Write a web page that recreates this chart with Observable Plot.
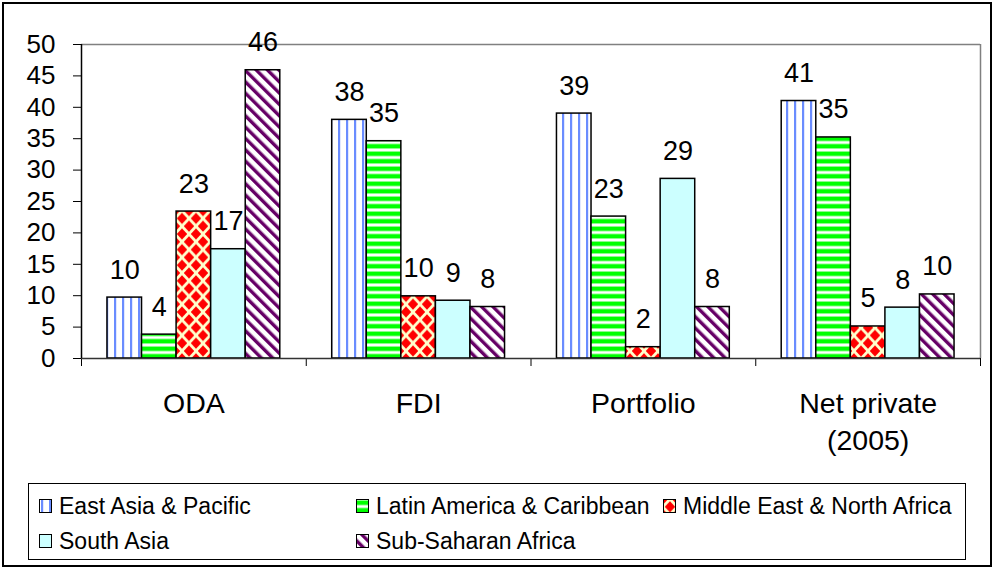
<!DOCTYPE html>
<html>
<head>
<meta charset="utf-8">
<script src="https://cdn.jsdelivr.net/npm/d3@7"></script>
<script src="https://cdn.jsdelivr.net/npm/@observablehq/plot@0.6"></script>
<style>
  html, body { margin: 0; padding: 0; background: #fff; }
  #wrap { position: relative; width: 995px; height: 569px; overflow: hidden; font-family: "Liberation Sans", Arial, sans-serif; }
  #outer { position: absolute; left: 2px; top: 2px; width: 990px; height: 565px; border: 2px solid #000; box-sizing: border-box; }
  #chart { position: absolute; left: 0; top: 0; }
  #legend { position: absolute; left: 28px; top: 483px; width: 938px; height: 77px; border: 1px solid #000; box-sizing: border-box; }
  .item { position: absolute; display: flex; align-items: center; font-size: 23px; color: #000; white-space: nowrap; line-height: 1; }
  .item svg { margin-right: 7px; }
</style>
</head>
<body>
<svg width="0" height="0" style="position:absolute">
  <defs>
    <pattern id="pEA" patternUnits="userSpaceOnUse" width="8" height="8">
      <rect width="8" height="8" fill="#ffffff"/>
      <rect x="2" width="2.2" height="8" fill="#6a8cff"/>
    </pattern>
    <pattern id="pLA" patternUnits="userSpaceOnUse" width="8" height="7.5">
      <rect width="8" height="7.5" fill="#ffffff"/>
      <rect y="1.5" width="8" height="4.5" fill="#00ff00"/>
    </pattern>
    <pattern id="pME" patternUnits="userSpaceOnUse" width="14" height="15.6">
      <rect width="14" height="15.6" fill="#ffffcc"/>
      <path d="M7,2.2L12.2,7.8L7,13.4L1.8,7.8Z" fill="#ff0000"/>
      <path d="M0,-5.6L5.2,0L0,5.6L-5.2,0Z" fill="#ff0000"/>
      <path d="M14,-5.6L19.2,0L14,5.6L8.8,0Z" fill="#ff0000"/>
      <path d="M0,10L5.2,15.6L0,21.2L-5.2,15.6Z" fill="#ff0000"/>
      <path d="M14,10L19.2,15.6L14,21.2L8.8,15.6Z" fill="#ff0000"/>
    </pattern>
    <pattern id="pSA" patternUnits="userSpaceOnUse" width="8" height="8">
      <rect width="8" height="8" fill="#ccffff"/>
    </pattern>
    <pattern id="pSSA" patternUnits="userSpaceOnUse" width="8" height="8" patternTransform="rotate(-45)">
      <rect width="8" height="8" fill="#ffffff"/>
      <rect x="2" width="3.4" height="8" fill="#660066"/>
    </pattern>
  </defs>
</svg>
<div id="wrap">
  <div id="outer"></div>
  <div id="chart"></div>
  <div id="legend"></div>
</div>
<script>
// ---- data ----
const categories = ["ODA", "FDI", "Portfolio", "Net private\n(2005)"];
const regions = ["East Asia & Pacific", "Latin America & Caribbean", "Middle East & North Africa", "South Asia", "Sub-Saharan Africa"];
const eastAsiaPacific      = [9.7, 38.0, 39.0, 41.0];
const latinAmericaCaribbean = [3.8, 34.6, 22.6, 35.2];
const middleEastNorthAfrica = [23.4, 9.9, 1.8, 5.1];
const southAsia            = [17.4, 9.2, 28.6, 8.1];
const subSaharanAfrica     = [45.9, 8.2, 8.2, 10.2];
const yTicks = [0, 5, 10, 15, 20, 25, 30, 35, 40, 45, 50];
const patternFills = ["url(#pEA)", "url(#pLA)", "url(#pME)", "url(#pSA)", "url(#pSSA)"];

// ---- table ----
const series = [eastAsiaPacific, latinAmericaCaribbean, middleEastNorthAfrica, southAsia, subSaharanAfrica];
const rows = [];
categories.forEach((cat, ci) => {
  regions.forEach((region, ri) => {
    rows.push({cat, ci, region, ri, value: series[ri][ci]});
  });
});

const barW = 0.1538;                 // width of one bar, in category units
const groupOff = (1 - regions.length * barW) / 2;
const x1 = d => d.ci + groupOff + d.ri * barW;
const x2 = d => x1(d) + barW;
const xc = d => x1(d) + barW / 2;

const chart = Plot.plot({
  width: 995,
  height: 470,
  marginLeft: 81,
  marginRight: 15,
  marginTop: 44,
  marginBottom: 112,
  style: {
    fontFamily: '"Liberation Sans", Arial, sans-serif',
    fontSize: "26px",
    color: "#000",
    background: "transparent",
    overflow: "visible"
  },
  x: {domain: [0, categories.length], ticks: d3.range(0, categories.length + 1), tickSize: 8, tickFormat: () => "", label: null},
  y: {domain: [0, 50], ticks: yTicks, tickSize: 8, tickPadding: 18, label: null},
  color: {type: "ordinal", domain: regions, range: patternFills},
  marks: [
    Plot.ruleY([50], {stroke: "#808080", strokeWidth: 1.5}),
    Plot.ruleX([categories.length], {y1: 0, y2: 50, stroke: "#808080", strokeWidth: 1.5}),
    Plot.rectY(rows, {x1, x2, y: "value", fill: "region", stroke: "#000", strokeWidth: 1.5}),
    Plot.ruleY([0], {stroke: "#333", strokeWidth: 1.5}),
    Plot.ruleX([0], {y1: 0, y2: 50, stroke: "#000", strokeWidth: 1.5}),
    Plot.text(rows, {x: xc, y: "value", text: d => String(Math.round(d.value)), lineAnchor: "bottom", dy: -19, fontSize: 27, fill: "#000"}),
    Plot.text(categories, {x: (d, i) => i + 0.5, text: d => d, frameAnchor: "bottom", lineAnchor: "top", dy: 28, fontSize: 28.5, lineHeight: 1.3, fill: "#000"})
  ]
});
document.getElementById("chart").appendChild(chart);

// ---- legend ----
const legendPos = [
  {left: 10, top: 22}, {left: 327, top: 22}, {left: 634, top: 22},
  {left: 10, top: 57}, {left: 327, top: 57}
];
const legend = document.getElementById("legend");
regions.forEach((r, i) => {
  const div = document.createElement("div");
  div.className = "item";
  div.style.left = legendPos[i].left + "px";
  div.style.top = (legendPos[i].top - 12) + "px";
  div.style.height = "24px";
  div.innerHTML = `<svg width="13" height="14"><rect x="0.5" y="0.5" width="12" height="13" fill="${patternFills[i]}" stroke="#000" stroke-width="1"/></svg><span>${r.replace(/&/g, "&amp;")}</span>`;
  legend.appendChild(div);
});
</script>
</body>
</html>
